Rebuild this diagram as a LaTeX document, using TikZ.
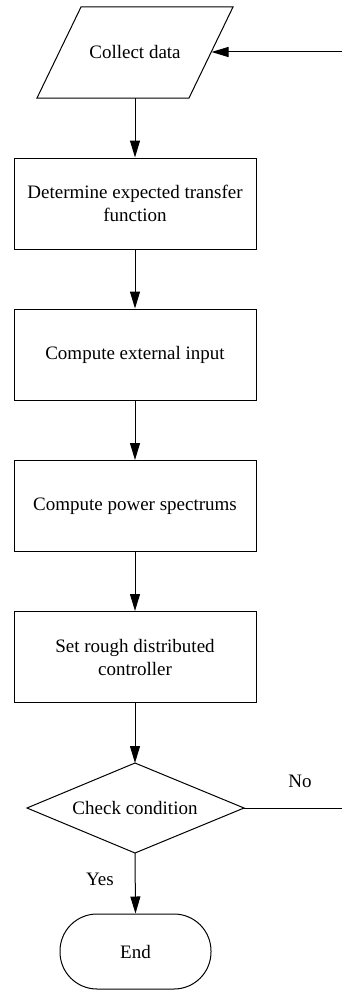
\documentclass[tikz,border=0pt]{standalone}
\usepackage{fontspec}
\setmainfont{Liberation Serif}
\usetikzlibrary{arrows.meta,shapes.geometric}
\begin{document}
\begin{tikzpicture}[x=1pt,y=-1pt,
  every node/.style={font=\fontsize{19}{23}\selectfont},
  proc/.style={draw,line width=1pt,minimum width=242pt,minimum height=91pt,align=center,inner sep=0pt},
  lbl/.style={inner sep=0pt},
  conn/.style={line width=1pt,-{Triangle[length=17pt,width=10pt]}},
  plain/.style={line width=1pt}]
\useasboundingbox (0,0) rectangle (342,990);
% input parallelogram
\coordinate (p1) at (81,7);
\coordinate (p2) at (233,7);
\coordinate (p3) at (189,98);
\coordinate (p4) at (37,98);
\draw[line width=1pt] (p1) -- (p2) -- (p3) -- (p4) -- cycle;
\node[lbl] (collect) at (135,52) {Collect data};
\coordinate (inbottom) at (135,98);
\coordinate (inright) at (211.5,52);
% process boxes
\node[proc] (b1) at (135,203.5) {Determine expected transfer\\function};
\node[proc] (b2) at (135,354.5) {Compute external input};
\node[proc] (b3) at (135,506) {Compute power spectrums};
\node[proc] (b4) at (135,657) {Set rough distributed\\controller};
% decision
\coordinate (dt) at (135,763);
\coordinate (db) at (135,853);
\coordinate (dl) at (27,808);
\coordinate (dr) at (244,808);
\draw[line width=1pt] (dt) -- (dr) -- (db) -- (dl) -- cycle;
\node[lbl] (check) at (135,808) {Check condition};
% end terminal
\node[draw,line width=1pt,rounded corners=37pt,minimum width=151pt,minimum height=75pt,inner sep=0pt] (end) at (135.5,951.5) {End};
% connectors
\draw[conn] (inbottom) -- (b1.north);
\draw[conn] (b1.south) -- (b2.north);
\draw[conn] (b2.south) -- (b3.north);
\draw[conn] (b3.south) -- (b4.north);
\draw[conn] (b4.south) -- (dt);
\draw[conn] (db) -- (end.north);
\coordinate (rightin) at (342,52);
\coordinate (rightout) at (342,808);
\draw[plain] (dr) -- (rightout);
\draw[conn] (rightin) -- (inright);
\node[lbl] (no) at (300,781) {No};
\node[lbl] (yes) at (100,879) {Yes};
\end{tikzpicture}
\end{document}
